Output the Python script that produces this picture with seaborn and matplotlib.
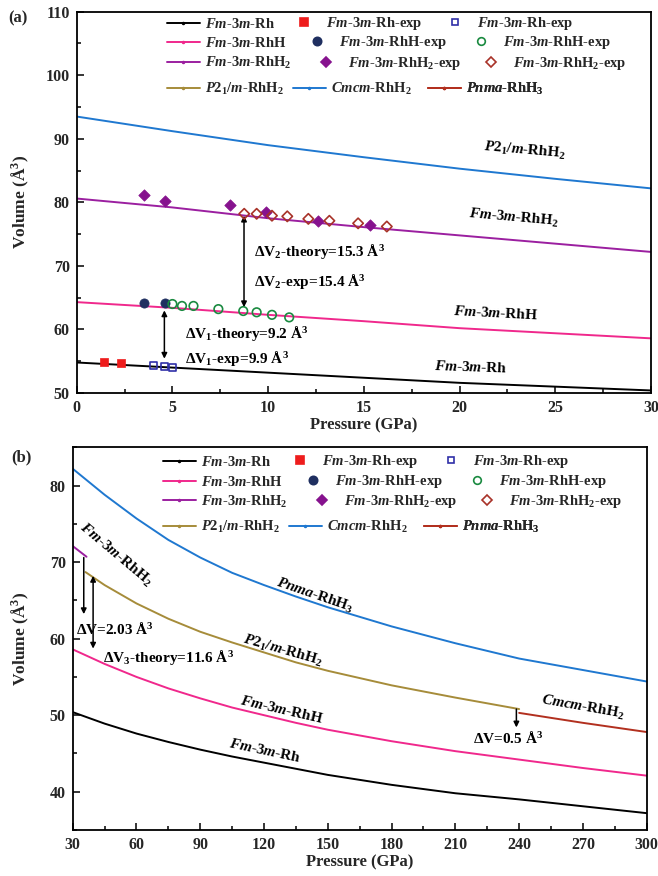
import numpy as np
import pandas as pd
import matplotlib
matplotlib.use("Agg")
import matplotlib.pyplot as plt
from matplotlib.lines import Line2D
import seaborn as sns

# ---------------- data: panel (a) ----------------
P_A = [0, 5, 10, 15, 20, 25, 30]
V_A_RH = [54.8, 54.0, 53.2, 52.4, 51.6, 51.0, 50.4]
V_A_RHH = [64.3, 63.4, 62.3, 61.3, 60.2, 59.4, 58.6]
V_A_RHH2 = [80.6, 79.2, 77.5, 76.1, 74.8, 73.5, 72.2]
V_A_BLUE = [93.5, 91.2, 89.0, 87.1, 85.3, 83.7, 82.2]

EXP_RH_FILLED_P = [1.4, 2.3]
EXP_RH_FILLED_V = [54.8, 54.7]
EXP_RH_OPEN_P = [4.0, 4.6, 5.0]
EXP_RH_OPEN_V = [54.3, 54.1, 54.0]
EXP_RHH_FILLED_P = [3.5, 4.6]
EXP_RHH_FILLED_V = [64.2, 64.1]
EXP_RHH_OPEN_P = [5.0, 5.5, 6.1, 7.4, 8.7, 9.4, 10.2, 11.1]
EXP_RHH_OPEN_V = [64.0, 63.7, 63.7, 63.2, 62.9, 62.7, 62.3, 61.9]
EXP_RHH2_FILLED_P = [3.5, 4.6, 8.0, 9.9, 12.6, 15.3]
EXP_RHH2_FILLED_V = [81.2, 80.2, 79.6, 78.5, 77.0, 76.4]
EXP_RHH2_OPEN_P = [8.75, 9.4, 10.2, 11.0, 12.1, 13.2, 14.7, 16.2]
EXP_RHH2_OPEN_V = [78.2, 78.2, 77.9, 77.8, 77.4, 77.1, 76.7, 76.2]

# ---------------- data: panel (b) ----------------
P_B = [30, 45, 60, 75, 90, 105, 120, 135, 150, 180, 210, 240, 270, 300]
V_B_RH = [50.4, 48.9, 47.6, 46.5, 45.5, 44.6, 43.8, 43.0, 42.2, 40.9, 39.8, 39.0, 38.1, 37.2]
V_B_RHH = [58.6, 56.7, 55.0, 53.5, 52.2, 51.0, 50.0, 49.0, 48.1, 46.6, 45.3, 44.2, 43.1, 42.1]
V_B_BLUE = [82.2, 78.8, 75.7, 72.9, 70.6, 68.6, 67.0, 65.5, 64.1, 61.6, 59.4, 57.4, 55.9, 54.4]
P_B_RHH2 = [30, 36.5]
V_B_RHH2 = [72.1, 70.7]
P_B_P21 = [36, 45, 60, 75, 90, 105, 120, 135, 150, 180, 210, 240]
V_B_P21 = [68.7, 67.0, 64.6, 62.6, 60.9, 59.5, 58.2, 56.9, 55.8, 53.9, 52.3, 50.8]
P_B_RED = [240, 270, 300]
V_B_RED = [50.3, 49.0, 47.8]

# ---------------- styling ----------------
sns.set_theme(style="ticks")
plt.rcParams["font.family"] = ["Liberation Serif", "DejaVu Serif"]
plt.rcParams["font.weight"] = "bold"
plt.rcParams["axes.labelweight"] = "bold"
plt.rcParams["mathtext.fontset"] = "custom"
plt.rcParams["mathtext.rm"] = "Liberation Serif:bold"
plt.rcParams["mathtext.it"] = "Liberation Serif:italic:bold"
plt.rcParams["mathtext.bf"] = "Liberation Serif:bold"

C_BLACK = "#000000"
C_PINK = "#f0288c"
C_PURPLE = "#9b1fa0"
C_OLIVE = "#a68c3a"
C_BLUE = "#1f78d0"
C_DRED = "#b2301f"
C_RED = "#ee1c1c"
C_OBLUE = "#3030a8"
C_NAVY = "#1f2f60"
C_GREEN = "#1a8a40"
C_PDIAM = "#86128e"
C_BDIAM = "#a83228"

FM = r"$Fm$-$3m$"
LAB = {
    "rh": FM + "-Rh",
    "rhexp": FM + "-Rh-exp",
    "rhh": FM + "-RhH",
    "rhhexp": FM + "-RhH-exp",
    "rhh2": FM + "-RhH$_2$",
    "rhh2exp": FM + "-RhH$_2$-exp",
    "p21": r"$P2_1/m$-RhH$_2$",
    "cmcm": r"$Cmcm$-RhH$_2$",
    "pnma": r"$Pnma$-RhH$_3$",
}

FIG_W, FIG_H = 658, 876
fig = plt.figure(figsize=(6.58, 8.76), dpi=100)
A_L, A_R, A_T, A_B = 76.7, 651.0, 11.7, 393.0
B_L, B_R, B_T, B_B = 72.7, 646.7, 447.3, 830.0
axA = fig.add_axes([A_L / FIG_W, 1 - A_B / FIG_H, (A_R - A_L) / FIG_W, (A_B - A_T) / FIG_H])
axB = fig.add_axes([B_L / FIG_W, 1 - B_B / FIG_H, (B_R - B_L) / FIG_W, (B_B - B_T) / FIG_H])

LW = 1.4


def line(ax, x, y, c):
    sns.lineplot(x=x, y=y, ax=ax, color=c, lw=LW, sort=False, estimator=None)


def style_axes(ax, left, right, top, bottom):
    for s in ax.spines.values():
        s.set_linewidth(1.3)
        s.set_color("black")
    ax.tick_params(axis="both", which="both", direction="in", top=False, right=False,
                   labelsize=11.5, width=1.1, color="black")
    ax.tick_params(axis="x", which="major", pad=5)
    ax.tick_params(axis="y", which="major", pad=5)
    ax.tick_params(which="major", length=5)
    ax.tick_params(which="minor", length=3)
    for lab in ax.get_xticklabels() + ax.get_yticklabels():
        lab.set_fontweight("bold")
    w = right - left
    h = bottom - top
    ax.xaxis.set_label_coords(0.5, -24 / h)
    ax.yaxis.set_label_coords((31 - left) / w, 0.5)


def legend_rows(ax, left, right, ys):
    w = right - left

    def lh(c):
        return Line2D([], [], color=c, lw=LW, marker=".", markersize=3)

    def mh(m, fc, ec, ms):
        return Line2D([], [], ls="none", marker=m, markerfacecolor=fc, markeredgecolor=ec,
                      markersize=ms, markeredgewidth=1.2)

    rows = [
        [(lh(C_BLACK), LAB["rh"], 90.3), (mh("s", C_RED, C_RED, 5.5), LAB["rhexp"], 210.8),
         (mh("s", "none", C_OBLUE, 5), LAB["rhexp"], 361.8)],
        [(lh(C_PINK), LAB["rhh"], 90.3), (mh("o", C_NAVY, C_NAVY, 6), LAB["rhhexp"], 223.8),
         (mh("o", "none", C_GREEN, 5.5), LAB["rhhexp"], 387.8)],
        [(lh(C_PURPLE), LAB["rhh2"], 90.3), (mh("D", C_PDIAM, C_PDIAM, 5.5), LAB["rhh2exp"], 232.8),
         (mh("D", "none", C_BDIAM, 5), LAB["rhh2exp"], 397.8)],
        [(lh(C_OLIVE), LAB["p21"], 90.3), (lh(C_BLUE), LAB["cmcm"], 216.3),
         (lh(C_DRED), LAB["pnma"], 351.3)],
    ]
    for row, y in zip(rows, ys):
        for h, l, xoff in row:
            leg = ax.legend([h], [l], loc="center left", bbox_to_anchor=(xoff / w, y),
                            frameon=False, borderpad=0, borderaxespad=0,
                            handlelength=2.26, handletextpad=0.35,
                            prop={"family": "Liberation Serif", "weight": "bold", "size": 10.5})
            ax.add_artist(leg)


TXT = dict(fontsize=11, fontweight="bold", color="black")
ARR = dict(arrowstyle="<|-|>", color="black", lw=1.1, mutation_scale=8, shrinkA=0, shrinkB=0)
ARR1 = dict(arrowstyle="-|>", color="black", lw=1.1, mutation_scale=8, shrinkA=0, shrinkB=0)

# ---------------- panel (a) ----------------
line(axA, P_A, V_A_RH, C_BLACK)
line(axA, P_A, V_A_RHH, C_PINK)
line(axA, P_A, V_A_RHH2, C_PURPLE)
line(axA, P_A, V_A_BLUE, C_BLUE)

sns.scatterplot(x=EXP_RH_FILLED_P, y=EXP_RH_FILLED_V, ax=axA, marker="s", s=34,
                color=C_RED, edgecolor=C_RED, linewidth=0.5, zorder=5)
sns.scatterplot(x=EXP_RH_OPEN_P, y=EXP_RH_OPEN_V, ax=axA, marker="s", s=26,
                facecolors="none", edgecolor=C_OBLUE, linewidth=1.2, zorder=5)
sns.scatterplot(x=EXP_RHH_FILLED_P, y=EXP_RHH_FILLED_V, ax=axA, marker="o", s=44,
                color=C_NAVY, edgecolor=C_NAVY, linewidth=0.5, zorder=5)
sns.scatterplot(x=EXP_RHH_OPEN_P, y=EXP_RHH_OPEN_V, ax=axA, marker="o", s=38,
                facecolors="none", edgecolor=C_GREEN, linewidth=1.2, zorder=5)
sns.scatterplot(x=EXP_RHH2_FILLED_P, y=EXP_RHH2_FILLED_V, ax=axA, marker="D", s=34,
                color=C_PDIAM, edgecolor=C_PDIAM, linewidth=0.5, zorder=5)
sns.scatterplot(x=EXP_RHH2_OPEN_P, y=EXP_RHH2_OPEN_V, ax=axA, marker="D", s=28,
                facecolors="none", edgecolor=C_BDIAM, linewidth=1.2, zorder=5)

axA.set_xlim(0, 30)
axA.set_ylim(50, 110)
axA.set_xticks(np.arange(0, 31, 5))
axA.set_xticks(np.arange(0, 31, 2.5), minor=True)
axA.set_yticks(np.arange(50, 111, 10))
axA.set_yticks(np.arange(50, 111, 5), minor=True)
axA.set_xlabel("Pressure (GPa)", fontsize=12, fontweight="bold")
axA.set_ylabel("Volume (Å$^3$)", fontsize=12.5, fontweight="bold")
style_axes(axA, A_L, A_R, A_T, A_B)

axA.annotate("", xy=(8.74, 77.9), xytext=(8.74, 63.5), arrowprops=ARR)
axA.annotate("", xy=(4.58, 63.0), xytext=(4.58, 55.4), arrowprops=ARR)
axA.text(9.28, 72.2, "ΔV$_2$-theory=15.3 Å$^3$", ha="left", va="center", **TXT)
axA.text(9.28, 67.5, "ΔV$_2$-exp=15.4 Å$^3$", ha="left", va="center", **TXT)
axA.text(5.68, 59.4, "ΔV$_1$-theory=9.2 Å$^3$", ha="left", va="center", **TXT)
axA.text(5.68, 55.5, "ΔV$_1$-exp=9.9 Å$^3$", ha="left", va="center", **TXT)

axA.text(23.4, 88.1, LAB["p21"], ha="center", va="center", rotation=-5, **TXT)
axA.text(22.8, 77.6, LAB["rhh2"], ha="center", va="center", rotation=-5, **TXT)
axA.text(21.9, 62.5, LAB["rhh"], ha="center", va="center", rotation=-3, **TXT)
axA.text(20.6, 54.1, LAB["rh"], ha="center", va="center", rotation=-2, **TXT)

legend_rows(axA, A_L, A_R, [0.968, 0.918, 0.865, 0.797])

# ---------------- panel (b) ----------------
line(axB, P_B, V_B_RH, C_BLACK)
line(axB, P_B, V_B_RHH, C_PINK)
line(axB, P_B_RHH2, V_B_RHH2, C_PURPLE)
line(axB, P_B_P21, V_B_P21, C_OLIVE)
line(axB, P_B, V_B_BLUE, C_BLUE)
line(axB, P_B_RED, V_B_RED, C_DRED)

axB.set_xlim(30, 300)
axB.set_ylim(35, 85)
axB.set_xticks(np.arange(30, 301, 30))
axB.set_xticks(np.arange(30, 301, 15), minor=True)
axB.set_yticks(np.arange(40, 81, 10))
axB.set_yticks(np.arange(35, 86, 5), minor=True)
axB.set_xlabel("Pressure (GPa)", fontsize=12, fontweight="bold")
axB.set_ylabel("Volume (Å$^3$)", fontsize=12.5, fontweight="bold")
style_axes(axB, B_L, B_R, B_T, B_B)

axB.annotate("", xy=(35.2, 63.2), xytext=(35.2, 70.6), arrowprops=ARR1)
axB.annotate("", xy=(39.6, 68.2), xytext=(39.6, 58.7), arrowprops=ARR)
axB.annotate("", xy=(238.7, 48.4), xytext=(238.7, 50.8), arrowprops=ARR1)
axB.text(31.7, 61.3, "ΔV=2.03 Å$^3$", ha="left", va="center", **TXT)
axB.text(44.1, 57.6, "ΔV$_3$-theory=11.6 Å$^3$", ha="left", va="center", **TXT)
axB.text(234.6, 47.0, "ΔV=0.5 Å$^3$", ha="center", va="center", **TXT)

axB.text(50.1, 71.0, LAB["rhh2"], ha="center", va="center", rotation=-40, **TXT)
axB.text(143.8, 65.6, LAB["pnma"], ha="center", va="center", rotation=-19, **TXT)
axB.text(128.8, 58.5, LAB["p21"], ha="center", va="center", rotation=-16, **TXT)
axB.text(128.2, 50.7, LAB["rhh"], ha="center", va="center", rotation=-13, **TXT)
axB.text(120.3, 45.3, LAB["rh"], ha="center", va="center", rotation=-12, **TXT)
axB.text(269.9, 51.0, LAB["cmcm"], ha="center", va="center", rotation=-10, **TXT)

legend_rows(axB, B_L, B_R, [0.962, 0.910, 0.858, 0.792])

fig.text(18 / FIG_W, 1 - 18 / FIG_H, "(a)", fontsize=12, fontweight="bold", ha="center", va="center")
fig.text(21 / FIG_W, 1 - 457 / FIG_H, "(b)", fontsize=12, fontweight="bold", ha="center", va="center")

fig.savefig("out.png", dpi=100)
